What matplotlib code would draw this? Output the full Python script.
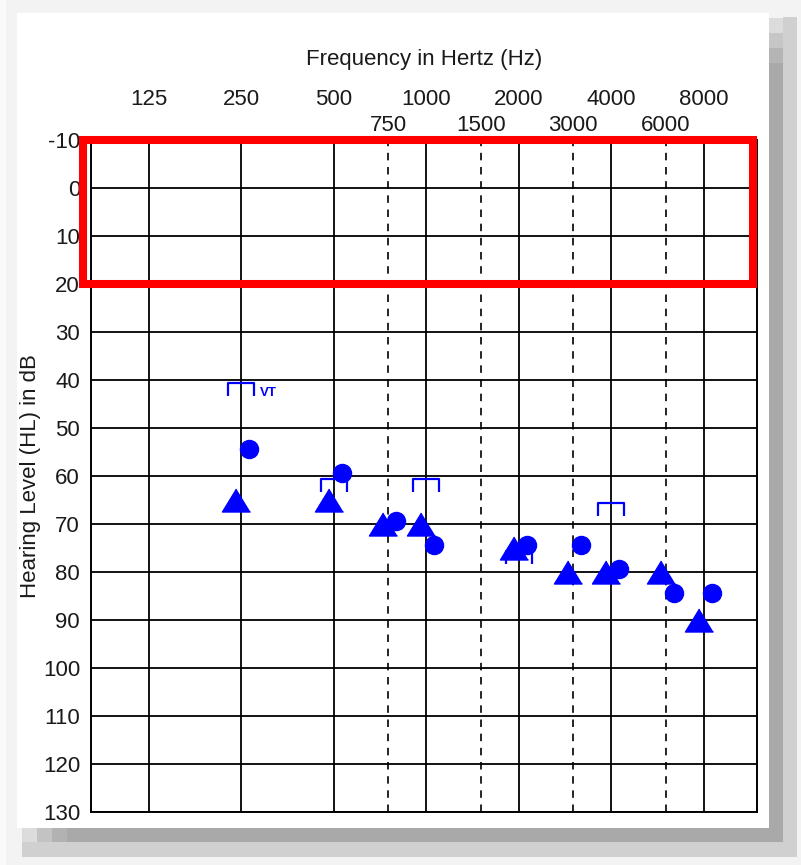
import numpy as np
import matplotlib
matplotlib.use("Agg")
import matplotlib.pyplot as plt
from matplotlib.path import Path
from matplotlib.patches import Rectangle
from matplotlib.transforms import offset_copy

plt.rcParams['font.family'] = ['Liberation Sans', 'DejaVu Sans']
plt.rcParams['axes.unicode_minus'] = False

# audiogram data
octave_freqs = [125, 250, 500, 1000, 2000, 4000, 8000]
octave_labels = ['125', '250', '500', '1000', '2000', '4000', '8000']
mid_freqs = [750, 1500, 3000, 6000]
mid_labels = ['750', '1500', '3000', '6000']
db_ticks = list(range(-10, 131, 10))

tri_freqs = [250, 500, 750, 1000, 2000, 3000, 4000, 6000, 8000]
tri_db = [65, 65, 70, 70, 75, 80, 80, 80, 90]
circ_freqs = [250, 500, 750, 1000, 2000, 3000, 4000, 6000, 8000]
circ_db = [55, 60, 70, 75, 75, 75, 80, 85, 85]
bracket_freqs = [250, 500, 1000, 2000, 4000]
bracket_db = [40, 60, 60, 75, 65]
vt_freq, vt_db = 250, 40

blue = '#0000ff'
W, H = 801, 865

fig = plt.figure(figsize=(W / 100, H / 100), dpi=100, facecolor='#f3f3f3')

# page background with drop shadow
bg = fig.add_axes([0, 0, 1, 1], zorder=0)
bg.set_xlim(0, W)
bg.set_ylim(H, 0)
bg.axis('off')
def box(x0, y0, x1, y1, c):
    bg.add_patch(Rectangle((x0, y0), x1 - x0, y1 - y0, color=c, lw=0))
box(0, 0, 6, H, '#fafafa')
box(783, 17, 797, 857, '#d0d0d0')
box(22, 842, 797, 857, '#d0d0d0')
box(769, 18, 783, 33, '#dcdcdc')
box(769, 33, 783, 48, '#c6c6c6')
box(769, 48, 783, 63, '#b5b5b5')
box(769, 63, 783, 842, '#a9a9a9')
box(22, 828, 37, 842, '#dcdcdc')
box(37, 828, 52, 842, '#c3c3c3')
box(52, 828, 67, 842, '#b2b2b2')
box(67, 828, 783, 842, '#a9a9a9')
box(17, 13, 769, 828, 'white')

left, right, top, bottom = 90.7, 757.0, 140.0, 812.0
ax = fig.add_axes([left / W, 1 - bottom / H, (right - left) / W, (bottom - top) / H], zorder=1)
ax.set_facecolor('white')
ax.set_xscale('log', base=2)
ax.set_xlim(125 / 2 ** 0.63, 8000 * 2 ** 0.573)
ax.set_ylim(130, -10)

ax.set_xticks(octave_freqs, octave_labels)
ax.set_xticks(mid_freqs, mid_labels, minor=True)
ax.set_yticks(db_ticks)
ax.xaxis.tick_top()
ax.tick_params(axis='x', which='major', length=0, pad=21.8, labelsize=16, labelcolor='#1a1a1a')
ax.tick_params(axis='x', which='minor', length=0, pad=3.1, labelsize=16, labelcolor='#1a1a1a')
ax.tick_params(axis='y', length=0, pad=7.7, labelsize=16, labelcolor='#1a1a1a')

ax.grid(which='major', color='black', lw=1.3)
ax.grid(which='minor', axis='x', color='black', lw=1.2, linestyle=(0, (4.5, 4)))
ax.set_axisbelow(True)
for s in ax.spines.values():
    s.set_color('black')
    s.set_linewidth(1.4)

ax.set_title('Frequency in Hertz (Hz)', fontsize=16, color='#1a1a1a', y=1.1116, pad=0)
ax.set_ylabel('Hearing Level (HL) in dB', fontsize=16, color='#1a1a1a')
ax.yaxis.set_label_coords(-0.075, 0.5)

# markers
tri_marker = [(0, 0.82), (-1, -0.82), (1, -0.82)]
bracket_marker = Path([(-13, -13), (-13, 0), (13, 0), (13, -13)],
                      [Path.MOVETO, Path.LINETO, Path.LINETO, Path.LINETO])

ax.plot(tri_freqs, tri_db, ls='none', marker=tri_marker, ms=20.2, color=blue,
        mec=blue, transform=offset_copy(ax.transData, fig, x=-5, y=0, units='dots'))
ax.plot(circ_freqs, circ_db, ls='none', marker='o', ms=13, color=blue, mec=blue,
        transform=offset_copy(ax.transData, fig, x=8, y=3, units='dots'))
ax.plot(bracket_freqs, bracket_db, ls='none', marker=bracket_marker, ms=18.7,
        mfc='none', mec=blue, mew=1.6,
        transform=offset_copy(ax.transData, fig, x=0, y=-3, units='dots'))
ax.annotate('VT', (vt_freq, vt_db), xytext=(19.5, -9.4), textcoords='offset points',
            ha='center', va='center', fontsize=9.5, fontweight='bold', color=blue)

# highlighted normal-hearing band
ax.add_patch(Rectangle((-0.0123, -10), 1.0063, 30, transform=ax.get_yaxis_transform(),
                       fill=False, ec='#ff0000', lw=5.8, clip_on=False, zorder=5))

fig.savefig('out.png', dpi=100)
